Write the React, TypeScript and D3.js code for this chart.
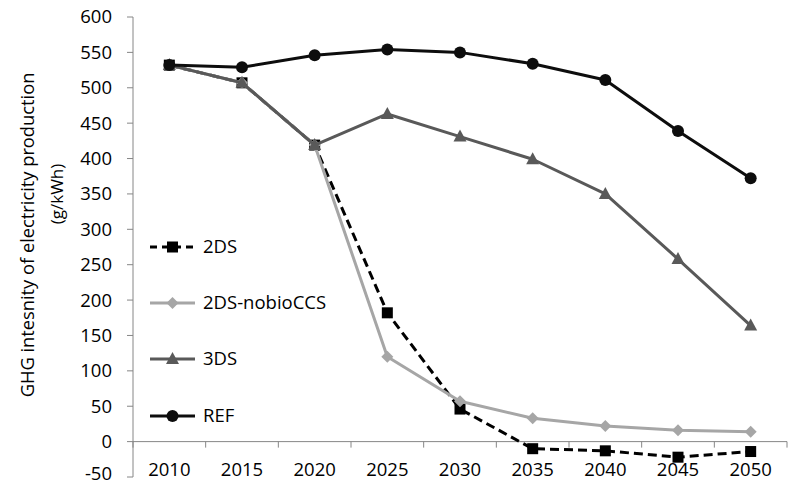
import React from "react";
import * as d3 from "d3";

const years = ["2010", "2015", "2020", "2025", "2030", "2035", "2040", "2045", "2050"];
const ds2 = [532, 507, 419, 182, 46, -10, -13, -22, -14];
const ds2NoBio = [532, 507, 419, 120, 57, 33, 22, 16, 14];
const ds3 = [532, 507, 419, 463, 431, 399, 350, 258, 164];
const ref = [532, 529, 546, 554, 550, 534, 511, 439, 372];
const yTicks = [-50, 0, 50, 100, 150, 200, 250, 300, 350, 400, 450, 500, 550, 600];

const FONT = "'Open Sans', 'Noto Sans', sans-serif";
const AXIS = "#868686";

type Series = {
  name: string;
  values: number[];
  color: string;
  dash?: string;
  marker: "square" | "diamond" | "triangle" | "circle";
};

const series: Series[] = [
  { name: "2DS", values: ds2, color: "#000000", dash: "9,5", marker: "square" },
  { name: "2DS-nobioCCS", values: ds2NoBio, color: "#a6a6a6", marker: "diamond" },
  { name: "3DS", values: ds3, color: "#595959", marker: "triangle" },
  { name: "REF", values: ref, color: "#0d0d0d", marker: "circle" },
];

function Marker({ kind, x, y, color }: { kind: Series["marker"]; x: number; y: number; color: string }) {
  if (kind === "circle") return <circle cx={x} cy={y} r={6} fill={color} />;
  if (kind === "square") return <rect x={x - 5.5} y={y - 5.5} width={11} height={11} fill={color} />;
  if (kind === "diamond")
    return <path d={`M${x},${y - 6}L${x + 6},${y}L${x},${y + 6}L${x - 6},${y}Z`} fill={color} />;
  return <path d={`M${x},${y - 7}L${x + 6.5},${y + 5}L${x - 6.5},${y + 5}Z`} fill={color} />;
}

export default function App() {
  const width = 788;
  const height = 485;
  const left = 133;
  const right = 787;
  const x = d3.scaleBand<string>().domain(years).range([left, right]);
  const y = d3.scaleLinear().domain([-50, 600]).range([477, 17]);
  const cx = (yr: string) => (x(yr) as number) + x.bandwidth() / 2;
  const line = d3
    .line<number>()
    .x((_, i) => cx(years[i]))
    .y((v) => y(v));

  const legendY = [247, 303, 359, 416];

  return (
    <svg
      width={width}
      height={height}
      style={{ position: "absolute", left: 0, top: 0, background: "#fff" }}
      fontFamily={FONT}
    >
      {/* y axis */}
      <line x1={left} x2={left} y1={y(600)} y2={y(-50)} stroke={AXIS} strokeWidth={1} />
      {yTicks.map((t) => (
        <g key={t}>
          <line x1={left - 6} x2={left} y1={y(t)} y2={y(t)} stroke={AXIS} />
          <text x={112} y={Math.min(y(t), 474)} dy="0.35em" textAnchor="end" fontSize={18.5} fill="#000">
            {t}
          </text>
        </g>
      ))}
      {/* x axis along zero */}
      <line x1={left} x2={right} y1={y(0)} y2={y(0)} stroke={AXIS} />
      {years.map((yr) => (
        <line
          key={"t" + yr}
          x1={x(yr) as number}
          x2={x(yr) as number}
          y1={y(0)}
          y2={y(0) + 6}
          stroke={AXIS}
        />
      ))}
      <line x1={right} x2={right} y1={y(0)} y2={y(0) + 6} stroke={AXIS} />
      {years.map((yr) => (
        <text key={"l" + yr} x={cx(yr)} y={470} dy="0.35em" textAnchor="middle" fontSize={18.5}>
          {yr}
        </text>
      ))}

      {/* axis title */}
      <g transform={`translate(28, 235) rotate(-90)`}>
        <text textAnchor="middle" dy="0.35em" fontSize={18.3}>
          GHG intesnity of electricity production
        </text>
      </g>
      <g transform={`translate(57, 194) rotate(-90)`}>
        <text textAnchor="middle" dy="0.35em" fontSize={17}>
          (g/kWh)
        </text>
      </g>

      {/* series */}
      {series.map((s) => (
        <g key={s.name}>
          <path
            d={line(s.values) || ""}
            fill="none"
            stroke={s.color}
            strokeWidth={3}
            strokeDasharray={s.dash}
            strokeLinejoin="round"
          />
          {s.values.map((v, i) => (
            <Marker key={i} kind={s.marker} x={cx(years[i])} y={y(v)} color={s.color} />
          ))}
        </g>
      ))}

      {/* legend */}
      {series.map((s, i) => (
        <g key={"lg" + s.name}>
          <line
            x1={150}
            x2={195}
            y1={legendY[i]}
            y2={legendY[i]}
            stroke={s.color}
            strokeWidth={3}
            strokeDasharray={s.dash ? "7,5" : undefined}
          />
          <Marker kind={s.marker} x={172.5} y={legendY[i]} color={s.color} />
          <text x={203} y={legendY[i]} dy="0.35em" fontSize={18.5}>
            {s.name}
          </text>
        </g>
      ))}
    </svg>
  );
}
